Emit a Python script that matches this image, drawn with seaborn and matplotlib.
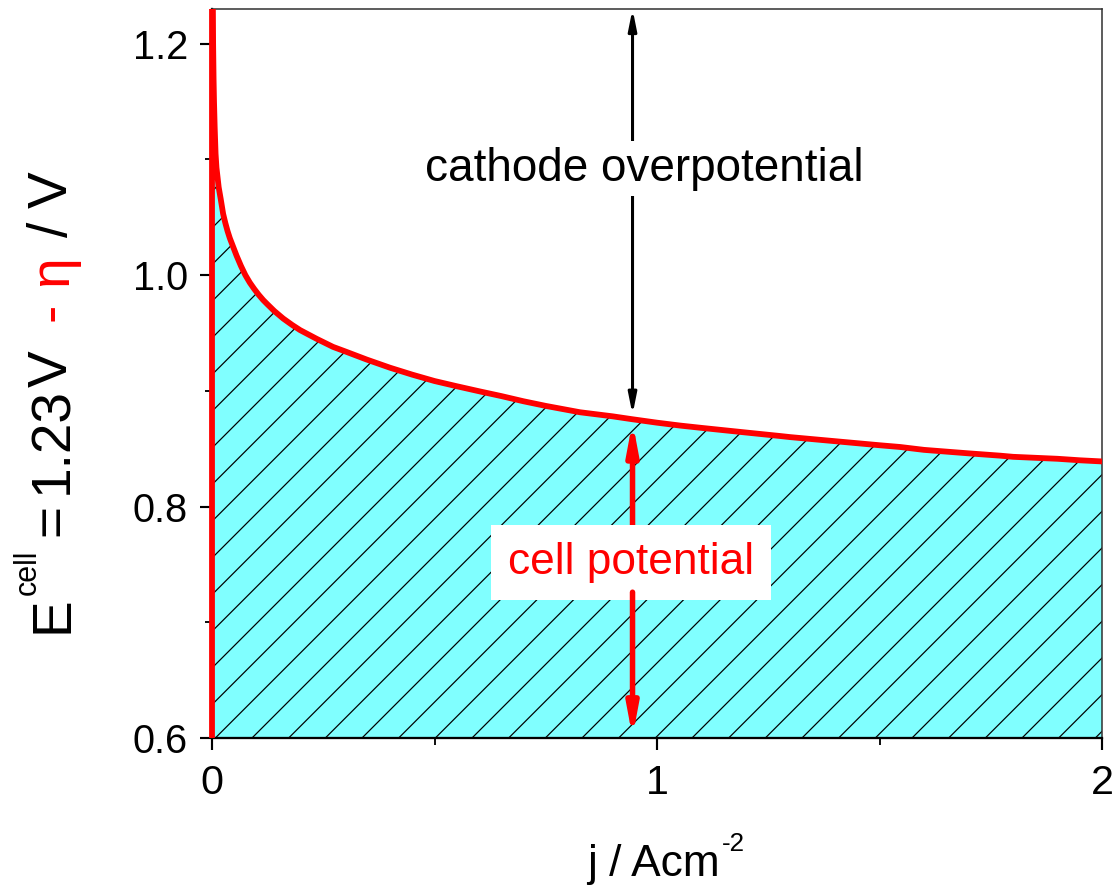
import numpy as np
import pandas as pd
import matplotlib
matplotlib.use("Agg")
import matplotlib.pyplot as plt
import matplotlib.transforms as mtransforms
import seaborn as sns

# ---------------- data ----------------
j_values = [0.0, 0.0, 0.0015, 0.0025, 0.0035, 0.0045, 0.006, 0.008, 0.01, 0.015,
            0.0195, 0.025, 0.03, 0.035, 0.04, 0.048, 0.055, 0.065, 0.075, 0.085,
            0.095, 0.105, 0.115, 0.124, 0.14, 0.16, 0.18, 0.198, 0.235, 0.272,
            0.3, 0.348, 0.4, 0.45, 0.5, 0.55, 0.602, 0.65, 0.7, 0.75,
            0.827, 0.9, 0.944, 1.0, 1.052, 1.1, 1.15, 1.2, 1.276, 1.3,
            1.4, 1.5, 1.546, 1.6, 1.65, 1.7, 1.771, 1.8, 1.9, 1.95, 2.0]
E_values = [0.6, 1.26, 1.26, 1.20, 1.17, 1.15, 1.128, 1.105, 1.093, 1.076,
            1.066, 1.053, 1.045, 1.038, 1.032, 1.024, 1.017, 1.008, 1.000, 0.9935,
            0.988, 0.983, 0.9785, 0.975, 0.969, 0.9625, 0.957, 0.9525, 0.945, 0.938,
            0.934, 0.927, 0.920, 0.914, 0.9085, 0.904, 0.8995, 0.8955, 0.891, 0.887,
            0.8815, 0.878, 0.8755, 0.8725, 0.870, 0.868, 0.866, 0.864, 0.861, 0.860,
            0.8565, 0.853, 0.8515, 0.849, 0.8475, 0.846, 0.844, 0.843, 0.8413, 0.840, 0.839]
E_base = 0.6
x_ticks = [0, 1, 2]
x_tick_labels = ["0", "1", "2"]
x_minor = [0.5, 1.5]
y_ticks = [0.6, 0.8, 1.0, 1.2]
y_tick_labels = ["0.6", "0.8", "1.0", "1.2"]
y_minor = [0.7, 0.9, 1.1]
arrow_j = 0.945
cathode_label = "cathode overpotential"
cathode_label_pos = (0.971, 1.092)
cell_label = "cell potential"
cell_label_pos = (0.942, 0.7515)
lower_arrow_start = 0.726
xlabel_main = "j / Acm"
xlabel_sup = "-2"

df = pd.DataFrame({"j": j_values, "E": E_values})

# ---------------- style ----------------
sns.set_theme(style="ticks")
plt.rcParams["font.family"] = ["Liberation Sans", "DejaVu Sans"]
plt.rcParams["hatch.linewidth"] = 0.8
plt.rcParams["hatch.color"] = "black"
for key in ["text.color", "axes.labelcolor", "xtick.color", "ytick.color"]:
    plt.rcParams[key] = "black"

DPI = 110
W, H = 1116, 888
fig = plt.figure(figsize=(W / DPI, H / DPI), dpi=DPI)
ax = fig.add_axes([212 / W, 150 / H, 890 / W, 729 / H])
ident = mtransforms.IdentityTransform()

ax.fill_between(df["j"], df["E"], E_base, facecolor="#80FFFF", edgecolor="black",
                linewidth=0, hatch="/", zorder=1)
sns.lineplot(data=df, x="j", y="E", sort=False, estimator=None, color="#FF0000",
             linewidth=3.8, ax=ax, zorder=3, legend=False)
line = ax.lines[-1]
line.set_solid_capstyle("butt")
line.set_solid_joinstyle("round")
line.set_clip_box(mtransforms.TransformedBbox(
    mtransforms.Bbox([[-0.01, -0.01], [1.0, 1.0]]), ax.transAxes))

ax.set_xlim(0, 2)
ax.set_ylim(0.6, 1.23)
ax.set_xticks(x_ticks)
ax.set_xticklabels(x_tick_labels)
ax.set_xticks(x_minor, minor=True)
ax.set_yticks(y_ticks)
ax.set_yticklabels(y_tick_labels)
ax.set_yticks(y_minor, minor=True)
ax.tick_params(which="major", length=7.8, width=1.4, direction="out", color="black",
               top=False, right=False)
ax.tick_params(which="minor", length=4.3, width=1.2, direction="out", color="black",
               top=False, right=False)
ax.tick_params(axis="x", which="major", labelsize=27, pad=9)
ax.tick_params(axis="y", which="major", labelsize=26, pad=8)
for side in ["top", "right"]:
    ax.spines[side].set_color("#303030")
    ax.spines[side].set_linewidth(1.0)
for side in ["bottom", "left"]:
    ax.spines[side].set_color("black")
    ax.spines[side].set_linewidth(1.5)

# x label: main text + raised "-2"
ax.set_xlabel(xlabel_main, fontsize=29)
ax.xaxis.label.set_horizontalalignment("right")
ax.xaxis.label.set_verticalalignment("baseline")
ax.xaxis.set_label_coords(720, H - 876, transform=ident)
fig.text(722, H - 851, xlabel_sup, transform=ident, fontsize=17,
         ha="left", va="baseline", color="black")
ax.set_ylabel("")

# ---------------- arrows and annotations ----------------
E_at = float(np.interp(arrow_j, j_values[2:], E_values[2:]))
ytop = ax.get_ylim()[1]

ax.annotate("", xy=(arrow_j, ytop), xytext=(arrow_j, E_at),
            arrowprops=dict(arrowstyle="<|-|>,head_length=1.1,head_width=0.22",
                            color="black", lw=2.0, shrinkA=3.0, shrinkB=0,
                            mutation_scale=10), zorder=4)
ax.text(cathode_label_pos[0], cathode_label_pos[1], cathode_label, fontsize=30,
        color="black", ha="center", va="center", zorder=5,
        bbox=dict(boxstyle="square,pad=0.12", facecolor="white", edgecolor="none"))

ax.annotate("", xy=(arrow_j, E_at), xytext=(arrow_j, cell_label_pos[1]),
            arrowprops=dict(arrowstyle="-|>,head_length=1.6,head_width=0.3",
                            color="#FF0000", lw=3.6, shrinkA=0, shrinkB=1.5,
                            mutation_scale=10), zorder=4)
ax.text(cell_label_pos[0], cell_label_pos[1], cell_label, fontsize=29,
        color="#FF0000", ha="center", va="center", zorder=5,
        bbox=dict(boxstyle="square,pad=0.38", facecolor="white", edgecolor="none"))
ax.annotate("", xy=(arrow_j, E_base), xytext=(arrow_j, lower_arrow_start),
            arrowprops=dict(arrowstyle="-|>,head_length=1.6,head_width=0.3",
                            color="#FF0000", lw=3.6, shrinkA=0, shrinkB=0.5,
                            mutation_scale=10, capstyle="round"), zorder=6)

# ---------------- y label in pieces (mixed colours) ----------------
S = 36
pieces = [  # text, colour, size, baseline x (px), centre y (px from top)
    ("E", "black", S, 67, 615),
    ("cell", "black", 20, 36, 572),
    ("=", "black", S, 67, 520),
    ("1.23", "black", S, 67, 441),
    ("V", "black", S, 67, 369),
    ("-", "#FF0000", S, 67, 312),
    ("\u03b7", "#FF0000", S, 67, 271),
    ("/", "black", S, 67, 229),
    ("V", "black", S, 67, 190),
]
for s, c, size, bx, cy in pieces:
    fig.text(bx, H - cy, s, transform=ident, rotation=90, rotation_mode="anchor",
             ha="center", va="baseline", fontsize=size, color=c)

fig.savefig("out.png", dpi=DPI, facecolor="white")
